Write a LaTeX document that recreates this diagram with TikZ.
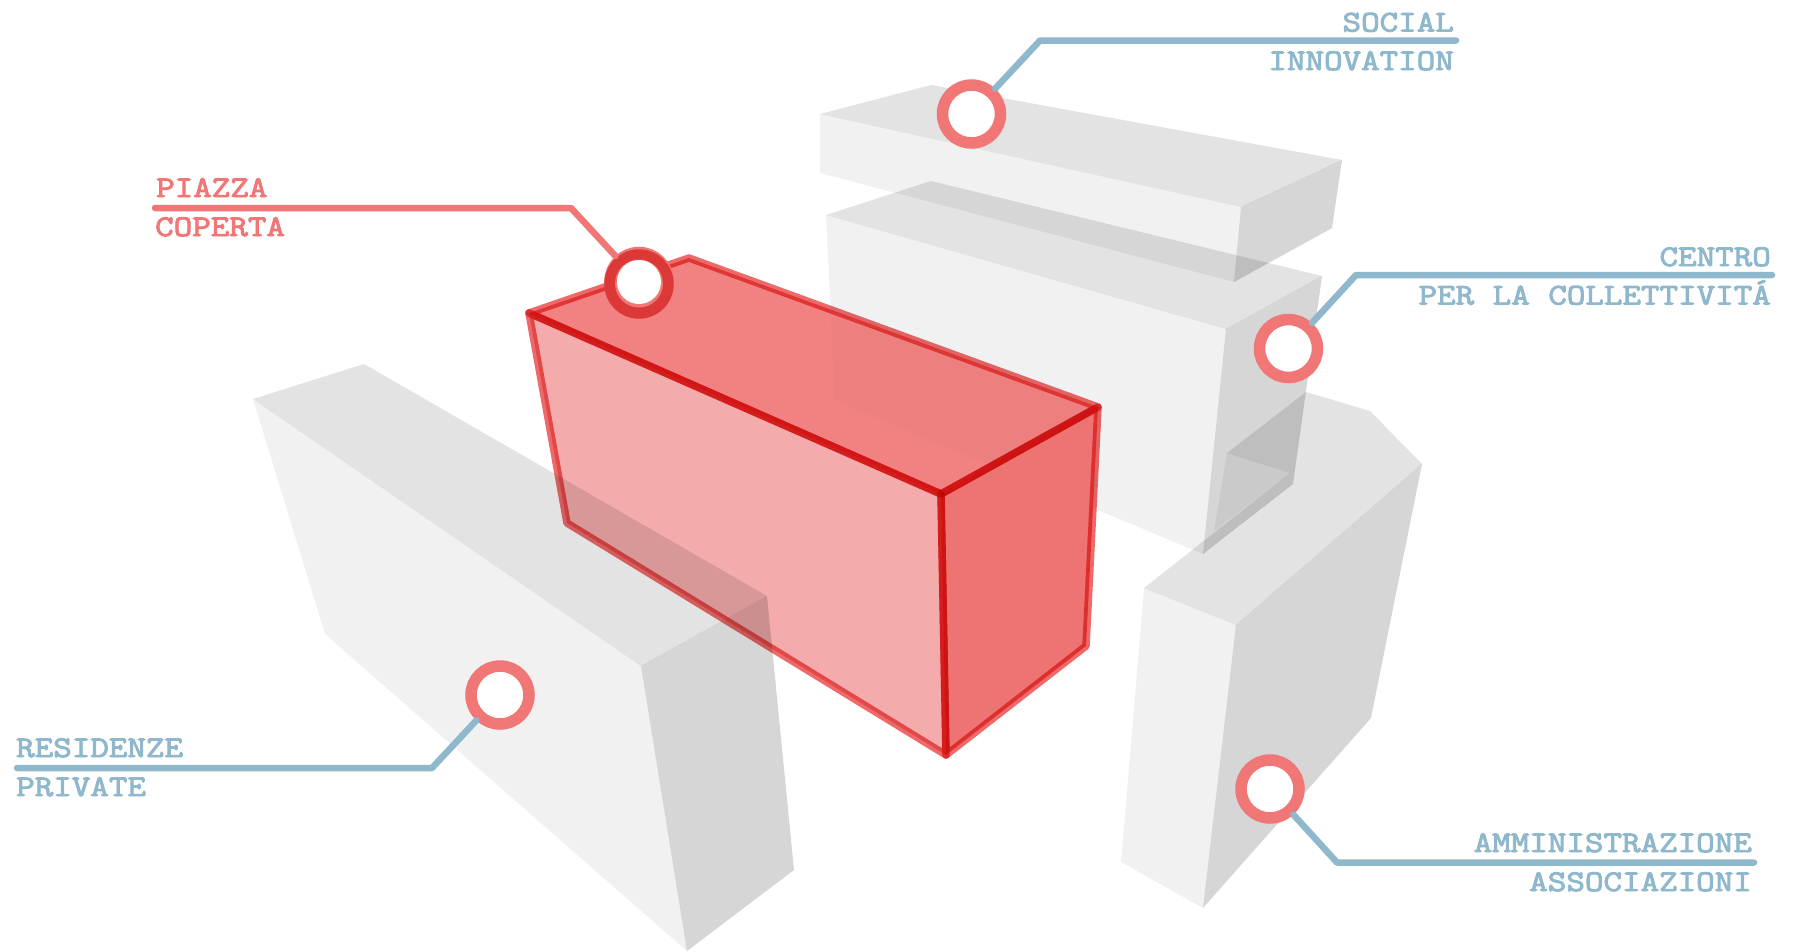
\documentclass[tikz,border=0pt]{standalone}
\usepackage{fontspec}
\newfontfamily\lblfont{Latin Modern Mono}[FakeBold=3.2,FakeStretch=1.2]
\definecolor{lblue}{HTML}{8FB8CC}
\definecolor{lred}{HTML}{F07775}
\definecolor{dred}{HTML}{DC3838}
\definecolor{redstroke}{HTML}{EE6A6A}
\definecolor{frontred}{HTML}{F4ABAB}
\definecolor{topred}{HTML}{F28282}
\definecolor{sidered}{HTML}{EE7373}
\newcommand\lbltext[1]{{\fontsize{30}{30}\selectfont\lblfont #1}}
\tikzset{
  frontface/.style={fill=black,fill opacity=0.055},
  topface/.style={fill=black,fill opacity=0.108},
  sideface/.style={fill=black,fill opacity=0.16},
  ring/.style={circle,draw=lred,fill=white,line width=11.5pt,minimum size=58pt,inner sep=0pt},
  blueline/.style={draw=lblue,line width=6.5pt,line cap=round,line join=round},
  redline/.style={draw=lred,line width=6.5pt,line cap=round,line join=round},
  lbl/.style={inner sep=0pt,font=\normalsize},
  redface/.style={line width=7.5pt,draw=redstroke,line join=round},
}
\begin{document}
\begin{tikzpicture}[x=1pt,y=-1pt]
\useasboundingbox (0,0) rectangle (1793,951);
\fill[white] (0,0) rectangle (1793,951);
% left block
\fill[topface] (253,399) -- (364,364) -- (767,596) -- (641,666) -- cycle;
\fill[frontface] (253,399) -- (641,666) -- (687,951) -- (325,634) -- cycle;
\fill[sideface] (641,666) -- (767,596) -- (794,870) -- (687,951) -- cycle;
% right L block
\fill[topface] (1144,588) -- (1290,473) -- (1227,453) -- (1306,392) -- (1370,411) -- (1422,464) -- (1236,625) -- cycle;
\fill[frontface] (1144,588) -- (1236,625) -- (1203,908) -- (1121,862) -- cycle;
\fill[sideface] (1236,625) -- (1422,464) -- (1371,718) -- (1203,908) -- cycle;
\fill[frontface] (1227,453) -- (1290,473) -- (1214,531) -- cycle;
% middle block
\fill[topface] (826,215) -- (931,181) -- (1322,276) -- (1226,329) -- cycle;
\fill[frontface] (826,215) -- (1226,329) -- (1203,554) -- (835,400) -- cycle;
\fill[sideface] (1226,329) -- (1322,276) -- (1293,484) -- (1203,554) -- cycle;
% top block
\fill[topface] (820,114) -- (931,85) -- (1342,160) -- (1241,207) -- cycle;
\fill[frontface] (820,114) -- (1241,207) -- (1234,282) -- (820,173) -- cycle;
\fill[sideface] (1241,207) -- (1342,160) -- (1332,228) -- (1234,282) -- cycle;
% the blocks behind the box show only faintly through its top and right faces
\fill[white,fill opacity=0.72] (529,313) -- (689,258) -- (1098,407) -- (941,494) -- cycle;
\fill[white] (941,494) -- (1098,407) -- (1086,646) -- (946,755) -- cycle;
% red box
\begin{scope}[blend mode=multiply]
\draw[redface] (529,313) -- (941,494) -- (946,755) -- (567,523) -- cycle;
\draw[redface] (529,313) -- (689,258) -- (1098,407) -- (941,494) -- cycle;
\draw[redface] (941,494) -- (1098,407) -- (1086,646) -- (946,755) -- cycle;
\fill[frontred] (529,313) -- (941,494) -- (946,755) -- (567,523) -- cycle;
\fill[topred] (529,313) -- (689,258) -- (1098,407) -- (941,494) -- cycle;
\fill[sidered] (941,494) -- (1098,407) -- (1086,646) -- (946,755) -- cycle;
\end{scope}
% rings
\node[ring] (rsocial) at (971.5,114) {};
\node[ring] (rcentro) at (1288.5,348.5) {};
\node[ring] (rresid) at (500,695) {};
\node[ring] (ramm) at (1270,789) {};
\node[ring] (rpiazza) at (639,281.5) {};
\node[circle,fill=dred,minimum size=69.5pt,inner sep=0pt] (rpiazzadark) at (639,284) {};
\node[circle,fill=lred,minimum size=48pt,inner sep=0pt] (rpiazzalight) at (639,283.5) {};
\node[circle,fill=white,minimum size=44pt,inner sep=0pt] (rpiazzacore) at (639,282) {};
% connectors
\coordinate (csocialend) at (1456,40.5);
\coordinate (csocial) at (1040,40.5);
\draw[blueline] (csocialend) -- (csocial) -- (rsocial);
\coordinate (ccentroend) at (1772,275);
\coordinate (ccentro) at (1356,275);
\draw[blueline] (ccentroend) -- (ccentro) -- (rcentro);
\coordinate (cresidend) at (17,768);
\coordinate (cresid) at (432,768);
\draw[blueline] (cresidend) -- (cresid) -- (rresid);
\coordinate (cammend) at (1754,862.5);
\coordinate (camm) at (1337,862.5);
\draw[blueline] (cammend) -- (camm) -- (ramm);
\coordinate (cpiazzaend) at (155,208);
\coordinate (cpiazza) at (571,208);
\draw[redline] (cpiazzaend) -- (cpiazza) -- (rpiazza);
% labels
\node[lbl,text=lblue,anchor=base east] (tsocial) at (1454,31.5) {\lbltext{SOCIAL}};
\node[lbl,text=lblue,anchor=base east] (tinno) at (1454,70) {\lbltext{INNOVATION}};
\node[lbl,text=lblue,anchor=base east] (tcentro) at (1771,266) {\lbltext{CENTRO}};
\node[lbl,text=lblue,anchor=base east] (tper) at (1771,304.5) {\lbltext{PER LA COLLETTIVITÁ}};
\node[lbl,text=lblue,anchor=base west] (tresid) at (16,757) {\lbltext{RESIDENZE}};
\node[lbl,text=lblue,anchor=base west] (tpriv) at (16,796) {\lbltext{PRIVATE}};
\node[lbl,text=lblue,anchor=base east] (tamm) at (1752,852) {\lbltext{AMMINISTRAZIONE}};
\node[lbl,text=lblue,anchor=base east] (tass) at (1752,891) {\lbltext{ASSOCIAZIONI}};
\node[lbl,text=lred,anchor=base west] (tpiazza) at (156,197) {\lbltext{PIAZZA}};
\node[lbl,text=lred,anchor=base west] (tcoperta) at (155,236) {\lbltext{COPERTA}};
\end{tikzpicture}
\end{document}
